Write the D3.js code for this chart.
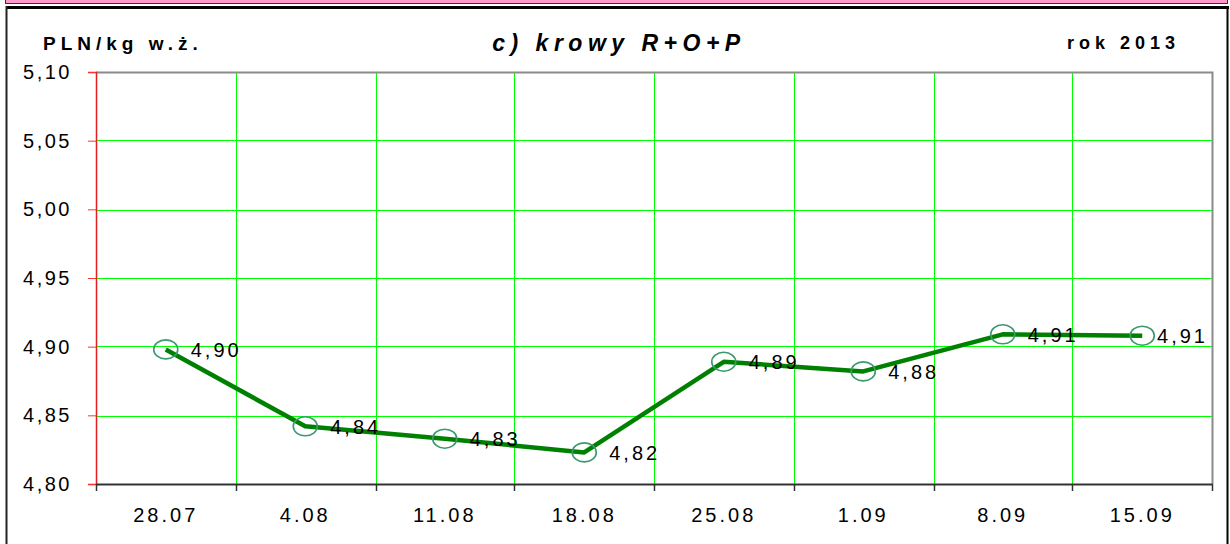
<!DOCTYPE html>
<html>
<head>
<meta charset="utf-8">
<script src="https://cdn.jsdelivr.net/npm/d3@7"></script>
<style>
  body { margin: 0; background: #fff; }
  text { font-family: "Liberation Sans", Arial, sans-serif; fill: #000; }
</style>
</head>
<body>
<div class="chart"></div>
<script>
var weeks = ["28.07", "4.08", "11.08", "18.08", "25.08", "1.09", "8.09", "15.09"];
var prices = [4.898, 4.842, 4.833, 4.823, 4.889, 4.882, 4.909, 4.908];
var priceLabels = ["4,90", "4,84", "4,83", "4,82", "4,89", "4,88", "4,91", "4,91"];
var yTicks = [4.80, 4.85, 4.90, 4.95, 5.00, 5.05, 5.10];

var svgWidth = 1230;
var svgHeight = 544;
var margin = { top: 72, right: 18, bottom: 60, left: 96 };
var width = svgWidth - margin.left - margin.right;
var height = 484 - margin.top;

var svg = d3.select(".chart")
  .append("svg")
  .attr("width", svgWidth)
  .attr("height", svgHeight);

// outer frame
svg.append("rect")
  .attr("x", 5.5).attr("y", -3)
  .attr("width", 1222).attr("height", 6.5)
  .attr("fill", "#ff99cc")
  .attr("stroke", "#333");
svg.append("rect")
  .attr("x", 6).attr("y", 6)
  .attr("width", 1223).attr("height", 3)
  .attr("fill", "#000");
svg.append("line")
  .attr("x1", 6.5).attr("x2", 6.5).attr("y1", 6).attr("y2", svgHeight)
  .attr("stroke", "#222").attr("stroke-width", 2);
svg.append("line")
  .attr("x1", 1227.5).attr("x2", 1227.5).attr("y1", 6).attr("y2", svgHeight)
  .attr("stroke", "#000").attr("stroke-width", 2);

var chart = svg.append("g")
  .attr("transform", "translate(" + margin.left + "," + margin.top + ")");

var x = d3.scaleBand().domain(weeks).range([0, width]).padding(0);
var y = d3.scaleLinear().domain([4.80, 5.10]).range([height, 0]);

var comma = d3.formatLocale({ decimal: ",", thousands: " ", grouping: [3], currency: ["", " zł"] });
var fmt = comma.format(".2f");

// snap thin lines to even pixels so they keep their colour
function snap(v) { return 2 * Math.round(v / 2) + 0.5; }

// grid
var grid = chart.append("g")
  .attr("shape-rendering", "crispEdges");

grid.selectAll(".hgrid")
  .data(yTicks.slice(1, -1))
  .enter().append("line")
  .attr("class", "hgrid")
  .attr("x1", 0).attr("x2", width)
  .attr("y1", function(d) { return snap(y(d)); })
  .attr("y2", function(d) { return snap(y(d)); })
  .style("stroke", "rgb(0,255,0)").style("stroke-width", 1);

grid.selectAll(".vgrid")
  .data(weeks.slice(1))
  .enter().append("line")
  .attr("class", "vgrid")
  .attr("x1", function(d) { return snap(x(d)); })
  .attr("x2", function(d) { return snap(x(d)); })
  .attr("y1", 0).attr("y2", height)
  .style("stroke", "rgb(0,255,0)").style("stroke-width", 1);

// plot border (top + right grey)
chart.append("path")
  .attr("d", "M0,0.5H" + (width + 0.5) + "V" + height)
  .attr("fill", "none")
  .attr("stroke", "#8a8a8a").attr("stroke-width", 2);

// y axis (red)
var leftAxis = d3.axisLeft(y).tickValues(yTicks).tickFormat(fmt).tickSize(8).tickPadding(16);
var yAxis = chart.append("g").attr("class", "y-axis").call(leftAxis);
yAxis.select(".domain").attr("stroke", "#e02020").attr("stroke-width", 1.5);
yAxis.selectAll(".tick line").attr("stroke", "#ff3030");
yAxis.selectAll(".tick text")
  .style("font-size", "20px")
  .style("letter-spacing", "2.5px");

// x axis
var bottomAxis = d3.axisBottom(x).tickSize(0).tickPadding(24);
var xAxis = chart.append("g")
  .attr("class", "x-axis")
  .attr("transform", "translate(0," + height + ")")
  .call(bottomAxis);
xAxis.select(".domain").attr("stroke", "#333").attr("stroke-width", 2);
xAxis.selectAll(".tick text")
  .style("font-size", "20px")
  .style("letter-spacing", "3px");
xAxis.selectAll(".btick")
  .data(weeks.map(function(d) { return x(d); }).concat([width]))
  .enter().append("line")
  .attr("class", "btick")
  .attr("x1", function(d) { return snap(d); })
  .attr("x2", function(d) { return snap(d); })
  .attr("y1", 0).attr("y2", 7)
  .attr("stroke", "#333").attr("stroke-width", 1.5);

// price line
var line = d3.line()
  .x(function(d, i) { return x(weeks[i]) + x.bandwidth() / 2; })
  .y(function(d) { return y(d); });

chart.append("path")
  .datum(prices)
  .attr("d", line)
  .attr("fill", "none")
  .attr("stroke", "#008000")
  .attr("stroke-width", 4.5)
  .attr("stroke-linejoin", "round");

chart.selectAll(".marker")
  .data(prices)
  .enter().append("ellipse")
  .attr("class", "marker")
  .attr("cx", function(d, i) { return x(weeks[i]) + x.bandwidth() / 2; })
  .attr("cy", function(d) { return y(d); })
  .attr("rx", 12).attr("ry", 9.5)
  .attr("fill", "none")
  .attr("stroke", "#3a9a6e")
  .attr("stroke-width", 1.6);

chart.selectAll(".plabel")
  .data(prices)
  .enter().append("text")
  .attr("class", "plabel")
  .attr("y", function(d) { return y(d); })
  .attr("dy", "0.36em")
  .style("font-size", "20px")
  .style("letter-spacing", "3px")
  .text(function(d, i) { return priceLabels[i]; })
  .attr("x", function(d, i) {
    var px = x(weeks[i]) + x.bandwidth() / 2 + 25;
    var w = this.getComputedTextLength();
    return Math.min(px, width - 4 - w);
  });

// titles
svg.append("text")
  .attr("x", 43).attr("y", 50)
  .style("font-size", "19px")
  .style("font-weight", "bold")
  .style("letter-spacing", "5px")
  .text("PLN/kg w.ż.");

svg.append("text")
  .attr("x", 619).attr("y", 51)
  .attr("text-anchor", "middle")
  .style("font-size", "23px")
  .style("font-weight", "bold")
  .style("font-style", "italic")
  .style("letter-spacing", "5.5px")
  .text("c) krowy R+O+P");

svg.append("text")
  .attr("x", 1180).attr("y", 49)
  .attr("text-anchor", "end")
  .style("font-size", "18px")
  .style("font-weight", "bold")
  .style("letter-spacing", "5px")
  .text("rok 2013");
</script>
</body>
</html>
